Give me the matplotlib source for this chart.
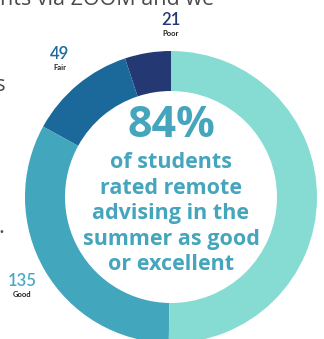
import matplotlib.pyplot as plt

# ratings (excellent not labelled in the crop)
categories = ['Poor', 'Fair', 'Good', 'Excellent']
counts = [21, 49, 135, 207]
colors = ['#243873', '#1b699a', '#42a6bc', '#86dcd2']
num_colors = ['#243873', '#1b699a', '#4aa9c2', '#86dcd2']

headline = '84%'
caption = ['of students', 'rated remote', 'advising in the',
           'summer as good', 'or excellent']

W, H = 324, 339
fig = plt.figure(figsize=(W / 100, H / 100), dpi=100)
ax = fig.add_axes([0, 0, 1, 1])

cx, cy = 171, H - 197
ax.pie(counts, colors=colors, startangle=90, counterclock=True,
       center=(cx, cy), radius=146,
       wedgeprops=dict(width=40, linewidth=0))

ax.set_xlim(0, W)
ax.set_ylim(0, H)
ax.set_aspect('equal')
ax.axis('off')

def py(y):
    return H - y

teal = '#44a5bd'
ax.text(cx, py(137), headline, ha='center', va='baseline', color=teal,
        fontsize=31, fontweight='bold', family='Open Sans')
for i, line in enumerate(caption):
    ax.text(cx, py(168 + i * 25.5), line, ha='center', va='baseline',
            color=teal, fontsize=15.5, fontweight='bold', family='Open Sans')

# slice labels
lab_pos = {'Poor': (171, 25), 'Fair': (60, 59), 'Good': (22, 286)}
for i, cat in enumerate(categories):
    if cat not in lab_pos:
        continue
    x, y = lab_pos[cat]
    ax.text(x, py(y), str(counts[i]), ha='center', va='baseline',
            color=num_colors[i], fontsize=12, fontweight='semibold',
            family='Lato')
    ax.text(x, py(y + 11), cat, ha='center', va='baseline',
            color='#222222', fontsize=5.5, fontweight='bold', family='Lato')

# bits of surrounding text cut off by the crop
ax.text(0, py(5), 'nts via ZOOM and we', ha='left', va='baseline',
        color='#4a4a4a', fontsize=15.5, family='Open Sans')
ax.text(6, py(91), 's', ha='right', va='baseline', color='#4a4a4a',
        fontsize=16, family='Open Sans')
ax.text(4, py(233), '.', ha='right', va='baseline', color='#4a4a4a',
        fontsize=16, family='Open Sans')

fig.savefig('out.png', dpi=100)
